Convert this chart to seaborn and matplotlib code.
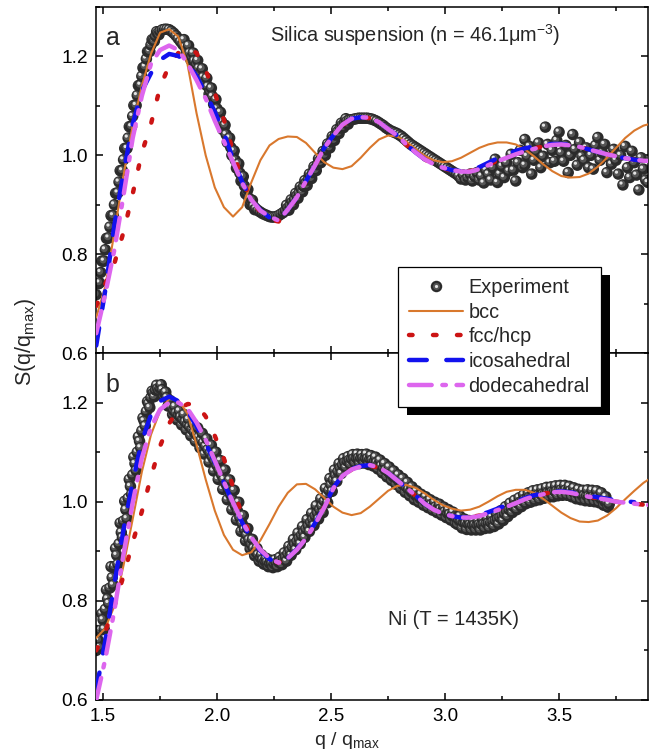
import numpy as np
import pandas as pd
import matplotlib
matplotlib.use("Agg")
import matplotlib.pyplot as plt
import seaborn as sns
from matplotlib.lines import Line2D
from matplotlib.patches import Rectangle
from matplotlib.legend_handler import HandlerTuple
from matplotlib.ticker import MultipleLocator

sns.set_theme(style="ticks")
plt.rcParams.update({
    "mathtext.fontset": "custom",
    "mathtext.rm": "Liberation Sans",
    "mathtext.it": "Liberation Sans:italic",
    "mathtext.bf": "Liberation Sans:bold",
    "mathtext.default": "regular",
    "axes.linewidth": 1.1,
    "axes.edgecolor": "black",
    "axes.facecolor": "white",
    "figure.facecolor": "white",
})
plt.rcParams["font.family"] = ["Liberation Sans", "DejaVu Sans"]

# ---------------- data ----------------
LABELS = ["Experiment", "bcc", "fcc/hcp", "icosahedral", "dodecahedral"]
X_TICKS = [1.5, 2.0, 2.5, 3.0, 3.5]
Y_TICKS = [0.6, 0.8, 1.0, 1.2]

# model curves are tabulated on q = 1.47, 1.51, ..., 3.91
Q_MODEL = np.round(np.arange(1.47, 3.9101, 0.04), 2)

A_BCC = [0.672, 0.735, 0.845, 0.960, 1.060, 1.140, 1.205, 1.248, 1.255, 1.240,
         1.185, 1.085, 1.000, 0.935, 0.895, 0.876, 0.895, 0.945, 0.990, 1.020,
         1.033, 1.038, 1.037, 1.025, 1.005, 0.986, 0.975, 0.972, 0.978, 0.995,
         1.015, 1.032, 1.040, 1.038, 1.028, 1.013, 0.999, 0.990, 0.986, 0.988,
         0.995, 1.005, 1.015, 1.022, 1.026, 1.026, 1.022, 1.012, 0.998, 0.982,
         0.968, 0.958, 0.955, 0.956, 0.963, 0.977, 0.995, 1.015, 1.035, 1.050,
         1.060, 1.065]
A_FCC = [0.695, 0.740, 0.782, 0.845, 0.922, 1.005, 1.063, 1.138, 1.182, 1.207,
         1.219, 1.207, 1.172, 1.126, 1.072, 1.008, 0.950, 0.910, 0.885, 0.870,
         0.866, 0.889, 0.914, 0.947, 0.980, 1.014, 1.040, 1.061, 1.074, 1.077,
         1.075, 1.066, 1.053, 1.039, 1.021, 1.005, 0.992, 0.981, 0.974, 0.969,
         0.967, 0.968, 0.973, 0.981, 0.989, 0.997, 1.004, 1.010, 1.014, 1.018,
         1.021, 1.022, 1.020, 1.017, 1.012, 1.007, 1.002, 0.998, 0.994, 0.991,
         0.989, 0.988]
A_ICO = [0.615, 0.728, 0.860, 0.965, 1.063, 1.130, 1.166, 1.193, 1.205, 1.201,
         1.186, 1.160, 1.125, 1.088, 1.045, 0.992, 0.946, 0.910, 0.889, 0.874,
         0.868, 0.890, 0.915, 0.948, 0.980, 1.015, 1.040, 1.062, 1.074, 1.077,
         1.076, 1.067, 1.053, 1.040, 1.022, 1.006, 0.992, 0.982, 0.975, 0.970,
         0.968, 0.970, 0.976, 0.985, 0.994, 1.002, 1.009, 1.014, 1.018, 1.021,
         1.023, 1.023, 1.021, 1.017, 1.012, 1.007, 1.002, 0.998, 0.994, 0.991,
         0.989, 0.988]
A_DOD = [0.640, 0.720, 0.810, 0.920, 1.035, 1.120, 1.185, 1.213, 1.222, 1.213,
         1.186, 1.152, 1.115, 1.070, 1.028, 0.986, 0.944, 0.910, 0.888, 0.876,
         0.868, 0.890, 0.915, 0.948, 0.980, 1.015, 1.040, 1.062, 1.074, 1.077,
         1.076, 1.067, 1.053, 1.040, 1.022, 1.006, 0.992, 0.982, 0.975, 0.970,
         0.967, 0.967, 0.972, 0.980, 0.988, 0.995, 1.002, 1.008, 1.013, 1.018,
         1.021, 1.022, 1.020, 1.017, 1.012, 1.007, 1.002, 0.998, 0.994, 0.991,
         0.989, 0.988]

B_BCC = [0.725, 0.745, 0.790, 0.872, 0.965, 1.060, 1.135, 1.183, 1.208, 1.205,
         1.178, 1.115, 1.045, 0.982, 0.933, 0.903, 0.892, 0.898, 0.922, 0.955,
         0.990, 1.018, 1.035, 1.036, 1.025, 1.008, 0.990, 0.978, 0.973, 0.977,
         0.990, 1.006, 1.022, 1.032, 1.034, 1.028, 1.017, 1.004, 0.993, 0.986,
         0.982, 0.984, 0.990, 1.000, 1.011, 1.020, 1.024, 1.024, 1.018, 1.006,
         0.992, 0.978, 0.967, 0.960, 0.959, 0.962, 0.972, 0.987, 1.005, 1.022,
         1.038, 1.050]
B_FCC = [0.700, 0.738, 0.790, 0.851, 0.918, 0.980, 1.050, 1.112, 1.158, 1.186,
         1.197, 1.197, 1.172, 1.133, 1.087, 1.030, 0.972, 0.928, 0.901, 0.884,
         0.877, 0.887, 0.904, 0.927, 0.956, 0.989, 1.027, 1.052, 1.065, 1.071,
         1.073, 1.068, 1.057, 1.043, 1.028, 1.012, 0.996, 0.984, 0.976, 0.971,
         0.968, 0.969, 0.972, 0.978, 0.985, 0.992, 0.999, 1.006, 1.012, 1.016,
         1.019, 1.020, 1.018, 1.014, 1.010, 1.007, 1.004, 1.000, 0.998, 0.996,
         0.994, 0.993]
B_ICO = [0.620, 0.720, 0.835, 0.944, 1.040, 1.122, 1.175, 1.203, 1.212, 1.203,
         1.183, 1.152, 1.118, 1.080, 1.038, 0.997, 0.958, 0.925, 0.901, 0.884,
         0.877, 0.886, 0.904, 0.928, 0.957, 0.990, 1.028, 1.053, 1.066, 1.072,
         1.074, 1.069, 1.058, 1.043, 1.028, 1.013, 0.996, 0.984, 0.976, 0.971,
         0.968, 0.969, 0.973, 0.979, 0.986, 0.993, 1.000, 1.007, 1.013, 1.017,
         1.020, 1.021, 1.019, 1.016, 1.012, 1.009, 1.006, 1.003, 1.001, 0.999,
         np.nan, np.nan]
B_DOD = [0.600, 0.683, 0.782, 0.895, 0.998, 1.088, 1.150, 1.186, 1.200, 1.200,
         1.188, 1.160, 1.125, 1.083, 1.040, 0.998, 0.960, 0.928, 0.903, 0.886,
         0.877, 0.886, 0.903, 0.926, 0.955, 0.988, 1.027, 1.052, 1.065, 1.071,
         1.074, 1.069, 1.058, 1.043, 1.028, 1.013, 0.996, 0.984, 0.976, 0.971,
         0.968, 0.968, 0.971, 0.977, 0.983, 0.990, 0.997, 1.005, 1.011, 1.015,
         1.019, 1.020, 1.018, 1.014, 1.010, 1.007, 1.004, 1.000, 0.998, 0.996,
         0.994, 0.993]

# experiment, silica: sampled from q = 1.47 in steps of 0.01
A_EXP_S = [0.718, 0.740, 0.763, 0.786, 0.809, 0.832, 0.855, 0.877, 0.900, 0.923,
           0.946, 0.968, 0.991, 1.013, 1.035, 1.057, 1.079, 1.100, 1.121, 1.141,
           1.160, 1.178, 1.195, 1.210, 1.223, 1.233, 1.241, 1.247, 1.251, 1.254,
           1.255, 1.255, 1.254,
           1.251, 1.247, 1.242, 1.236, 1.230, 1.224, 1.219, 1.214, 1.207, 1.199,
           1.191, 1.184, 1.176, 1.167, 1.158, 1.149, 1.139, 1.129, 1.119, 1.107,
           1.094, 1.081, 1.068, 1.055, 1.042, 1.029, 1.016, 1.003, 0.990, 0.977,
           0.964, 0.951, 0.938, 0.925, 0.913, 0.904, 0.897, 0.892, 0.888, 0.885,
           0.882, 0.880, 0.878, 0.876, 0.875, 0.875, 0.876, 0.878, 0.881, 0.884,
           0.888, 0.893, 0.899, 0.905, 0.911,
           0.918, 0.924, 0.931, 0.937, 0.944, 0.950, 0.957, 0.965, 0.973, 0.981,
           0.989, 0.996, 1.004, 1.011, 1.019, 1.027, 1.034, 1.041, 1.048, 1.055,
           1.061, 1.066, 1.069, 1.071, 1.072,
           1.073, 1.074, 1.075, 1.075, 1.075, 1.075, 1.075, 1.074, 1.073, 1.071,
           1.069, 1.066, 1.063, 1.060, 1.056, 1.053, 1.050, 1.048, 1.046, 1.044,
           1.041, 1.038, 1.034, 1.030, 1.026, 1.022, 1.019, 1.016, 1.013, 1.010,
           1.007, 1.004, 1.001, 0.998, 0.995, 0.992, 0.989, 0.986, 0.983, 0.980,
           0.977, 0.974, 0.971, 0.968, 0.965, 0.962]
# additional silica points on the steep flanks (q = start + 0.01 k)
A_FLANK1_S = [0.741, 0.742, 0.786, 0.786, 0.832, 0.833, 0.878, 0.878, 0.923, 0.924,
              0.969, 0.969, 1.014, 1.014, 1.058, 1.058, 1.101, 1.101, 1.141, 1.142,
              1.177, 1.179, 1.210, 1.210, 1.234, 1.231, 1.250, 1.244]          # from 1.475
A_FLANK2_S = [1.234, 1.207, 1.222, 1.193, 1.207, 1.178, 1.192, 1.162, 1.175, 1.144,
              1.156, 1.124, 1.136, 1.103, 1.113, 1.078, 1.087, 1.052, 1.061, 1.026,
              1.035, 1.000, 1.009, 0.974, 0.983, 0.948, 0.957, 0.922, 0.931, 0.900,
              0.909, 0.890]                                                      # from 1.855
A_FLANK3_S = [0.899, 0.889, 0.910, 0.900, 0.923, 0.913, 0.936, 0.926, 0.949, 0.939,
              0.962, 0.953, 0.977, 0.969, 0.993, 0.985, 1.008, 1.000, 1.023, 1.015,
              1.038, 1.030, 1.052, 1.044, 1.065, 1.056, 1.074, 1.063]          # from 2.305
# noisy tail of the silica data
A_TAIL_Q = [3.06, 3.07, 3.08, 3.09, 3.10, 3.11, 3.12, 3.13, 3.14, 3.15, 3.16, 3.17,
            3.18, 3.19, 3.20, 3.21, 3.22, 3.23, 3.24, 3.25, 3.26, 3.27, 3.28, 3.29,
            3.30, 3.31, 3.32, 3.33, 3.34, 3.35, 3.35, 3.36, 3.37, 3.38, 3.39, 3.40,
            3.41, 3.42, 3.43, 3.44, 3.45, 3.46, 3.47, 3.48, 3.49, 3.50, 3.51, 3.52,
            3.53, 3.54, 3.55, 3.56, 3.57, 3.58, 3.59, 3.60, 3.61, 3.62, 3.63, 3.64,
            3.65, 3.66, 3.67, 3.68, 3.69, 3.70, 3.71, 3.72, 3.73, 3.74, 3.75, 3.76,
            3.77, 3.78, 3.79, 3.80, 3.81, 3.82, 3.83, 3.84, 3.85, 3.86, 3.87, 3.88,
            3.89]
A_TAIL_S = [0.958, 0.952, 0.960, 0.950, 0.955, 0.962, 0.948, 0.957, 0.965, 0.950,
            0.958, 0.944, 0.970, 0.962, 0.950, 0.975, 0.992, 0.945, 0.962, 0.978,
            0.955, 0.985, 0.968, 1.002, 0.970, 0.948, 0.985, 1.010, 0.975, 1.032,
            0.980, 0.998, 1.018, 0.962, 0.990, 1.008, 1.025, 0.975, 0.998, 1.057,
            1.022, 0.985, 1.010, 0.988, 1.030, 1.047, 1.005, 0.988, 1.020, 0.965,
            1.000, 1.042, 1.012, 0.980, 1.026, 0.998, 0.990, 1.015, 0.975, 1.000,
            0.972, 1.020, 1.036, 0.990, 1.005, 1.022, 0.965, 0.995, 0.982, 1.012,
            0.990, 0.962, 1.000, 0.940, 1.018, 0.975, 0.955, 1.008, 0.985, 0.960,
            0.930, 0.995, 0.972, 0.950, 0.945]

# experiment, Ni: sampled from q = 1.47 in steps of 0.01
B_EXP_S = [0.700, 0.720, 0.741, 0.762, 0.783, 0.804, 0.826, 0.847, 0.869, 0.892,
           0.915, 0.938, 0.961, 0.984, 1.007, 1.031, 1.054, 1.077, 1.100, 1.122,
           1.143, 1.163, 1.182, 1.198, 1.210, 1.219, 1.225, 1.228, 1.229, 1.226,
           1.219, 1.210, 1.200,
           1.191, 1.184, 1.179, 1.175, 1.171, 1.166, 1.161, 1.156, 1.151, 1.146,
           1.140, 1.135, 1.130, 1.124, 1.119, 1.112, 1.105, 1.098, 1.090, 1.082,
           1.073, 1.064, 1.054, 1.045, 1.035, 1.025, 1.014, 1.003, 0.992, 0.981,
           0.968, 0.956, 0.944, 0.933, 0.923, 0.914, 0.906, 0.899, 0.893, 0.887,
           0.883, 0.880, 0.878, 0.876, 0.875, 0.875, 0.876, 0.878, 0.881, 0.885,
           0.889, 0.895, 0.901, 0.908, 0.914,
           0.920, 0.926, 0.932, 0.938, 0.945, 0.951, 0.958, 0.964, 0.971, 0.977,
           0.984, 0.991, 1.001, 1.012, 1.023, 1.034, 1.044, 1.053, 1.061, 1.068,
           1.074, 1.079, 1.082, 1.084, 1.086,
           1.087, 1.088, 1.088, 1.088, 1.088, 1.088, 1.087, 1.086, 1.084, 1.082,
           1.079, 1.076, 1.072, 1.068, 1.064, 1.060, 1.056, 1.052, 1.048, 1.045,
           1.041, 1.037, 1.033, 1.029, 1.025, 1.021, 1.017, 1.013, 1.010, 1.007,
           1.004, 1.002, 0.999, 0.997, 0.994, 0.992, 0.990, 0.988, 0.985, 0.982,
           0.980, 0.977, 0.975, 0.972, 0.969, 0.966,
           0.963, 0.960, 0.958, 0.956, 0.955, 0.954, 0.953, 0.953, 0.953, 0.954,
           0.954, 0.955, 0.956, 0.957, 0.958, 0.960, 0.962, 0.965, 0.968, 0.972,
           0.976, 0.980, 0.984, 0.987, 0.990, 0.993, 0.996, 0.999, 1.002, 1.005,
           1.007, 1.009, 1.011, 1.012, 1.013, 1.014, 1.015, 1.016, 1.017, 1.018,
           1.019, 1.020, 1.021, 1.022, 1.023, 1.024, 1.024, 1.024, 1.023, 1.022,
           1.020, 1.018, 1.016, 1.014, 1.013, 1.012, 1.012, 1.011, 1.011, 1.010,
           1.010, 1.009, 1.007, 1.004, 1.001, 0.998, 0.995]
# second, interleaved set of Ni points (q = 1.475 + 0.01 k), scattered about the band
B_EXP2_S = [0.740, 0.706, 0.774, 0.743, 0.822, 0.795, 0.869, 0.832, 0.906, 0.874,
            0.957, 0.928, 1.001, 0.966, 1.045, 1.015, 1.090, 1.063, 1.131, 1.109,
            1.169, 1.153, 1.202, 1.190, 1.223, 1.212, 1.235, 1.223, 1.236, 1.213,
            1.221, 1.193, 1.204, 1.176, 1.192, 1.165, 1.183, 1.155, 1.176, 1.145,
            1.166, 1.133, 1.157, 1.122, 1.149, 1.109, 1.138, 1.096, 1.127, 1.080,
            1.114, 1.062, 1.100, 1.045, 1.083, 1.025, 1.064, 1.004, 1.044, 0.984,
            1.023, 0.963, 0.999, 0.940, 0.972, 0.921, 0.946, 0.905, 0.924, 0.891,
            0.906, 0.880, 0.893, 0.874, 0.886, 0.869, 0.882, 0.867, 0.883, 0.869,
            0.888, 0.873, 0.897, 0.880, 0.910, 0.892, 0.924, 0.903,
            0.937, 0.915, 0.950, 0.928, 0.964, 0.940, 0.977, 0.952, 0.992, 0.965,
            1.006, 0.978, 1.027, 0.998, 1.047, 1.021, 1.064, 1.041, 1.077, 1.057,
            1.087, 1.069, 1.091, 1.075, 1.095,
            1.078, 1.096, 1.077, 1.095, 1.078, 1.096, 1.075, 1.093, 1.072, 1.090,
            1.066, 1.084, 1.058, 1.077, 1.050, 1.070, 1.043, 1.062, 1.035, 1.054,
            1.027, 1.047, 1.019, 1.039, 1.012, 1.030, 1.004, 1.022, 0.999, 1.015,
            0.993, 1.010, 0.988, 1.004, 0.983, 0.999, 0.978, 0.995, 0.973, 0.989,
            0.968, 0.984, 0.963, 0.979, 0.957,
            0.954, 0.971, 0.947, 0.965, 0.944, 0.962, 0.943, 0.962, 0.943, 0.962,
            0.943, 0.965, 0.946, 0.967, 0.947, 0.970, 0.950, 0.976, 0.955, 0.982,
            0.962, 0.990, 0.970, 0.997, 0.978, 1.003, 0.984, 1.008, 0.990, 1.014,
            0.996, 1.018, 0.999, 1.022, 1.002, 1.024, 1.004, 1.026, 1.007, 1.029,
            1.009, 1.030, 1.010, 1.032, 1.012, 1.033, 1.013, 1.033, 1.013, 1.031,
            1.010, 1.028, 1.006, 1.025, 1.004, 1.023, 1.002, 1.024, 1.001, 1.023,
            1.000, 1.022, 0.998, 1.018, 0.993, 1.010, 0.989]

assert len(A_EXP_S) == 159 and len(B_EXP_S) == 226 and len(B_EXP2_S) == 225


def grid(start, vals):
    return list(np.round(start + 0.01 * np.arange(len(vals)), 3))


A_EXP_Q = (grid(1.47, A_EXP_S) + grid(1.475, A_FLANK1_S) + grid(1.855, A_FLANK2_S)
           + grid(2.305, A_FLANK3_S) + A_TAIL_Q)
A_EXP_ALL = A_EXP_S + A_FLANK1_S + A_FLANK2_S + A_FLANK3_S + A_TAIL_S
B_EXP_Q = grid(1.47, B_EXP_S) + grid(1.475, B_EXP2_S)
B_EXP_ALL = B_EXP_S + B_EXP2_S

# ---------------- styles ----------------
W, H = 656, 756
XLIM = (1.469, 3.890)
YLIM = (0.6, 1.3)
AX_L, AX_W = 96, 552
A_TOP, A_H = 7, 346
B_TOP, B_H = 353, 347

C_BCC = "#d9782d"
C_FCC = "#cc1414"
C_ICO = "#1212ee"
C_DOD = "#dd66ee"
LW = 3.2
STYLES = [
    dict(color=C_BCC, linewidth=1.5, linestyle="-"),
    dict(color=C_FCC, linewidth=LW, linestyle=(0, (0.8, 4.6)), dash_capstyle="round"),
    dict(color=C_ICO, linewidth=LW, linestyle=(0, (4.0, 4.4)), dash_capstyle="round"),
    dict(color=C_DOD, linewidth=LW, linestyle=(0, (5.1, 2.4, 0.8, 2.4)), dash_capstyle="round"),
]
SPH_D = 11.5  # px
SPH_LAYERS = [("base", 0.0, 0.0, SPH_D, "#2b2b2b"),
              ("mid", -1.1, 1.1, 7.0, "#555555"),
              ("hi", -1.9, 1.9, 3.2, "#e4e4e4")]

fig = plt.figure(figsize=(W / 100, H / 100), dpi=100)
ax_a = fig.add_axes([AX_L / W, 1 - (A_TOP + A_H) / H, AX_W / W, A_H / H])
ax_b = fig.add_axes([AX_L / W, 1 - (B_TOP + B_H) / H, AX_W / W, B_H / H])


def spheres(ax, q, s, h_px):
    dq = (XLIM[1] - XLIM[0]) / AX_W
    ds = (YLIM[1] - YLIM[0]) / h_px
    order = np.argsort(np.asarray(q), kind="stable")
    rows = []
    for i in order:
        for name, ox, oy, d, c in SPH_LAYERS:
            rows.append((q[i] + ox * dq, s[i] + oy * ds, name))
    df = pd.DataFrame(rows, columns=["q", "S", "layer"])
    sns.scatterplot(data=df, x="q", y="S", hue="layer", size="layer",
                    palette={n: c for n, _, _, _, c in SPH_LAYERS},
                    sizes={n: (d * 0.72) ** 2 for n, _, _, d, _ in SPH_LAYERS},
                    linewidth=0, legend=False, ax=ax, zorder=2)


def panel(ax, eq, es, curves, h_px):
    spheres(ax, eq, es, h_px)
    for ys, st in zip(curves, STYLES):
        sns.lineplot(x=Q_MODEL, y=np.array(ys, dtype=float), ax=ax,
                     estimator=None, sort=False, zorder=3, **st)
    ax.set_xlim(*XLIM)
    ax.set_ylim(*YLIM)
    ax.set_xticks(X_TICKS)
    ax.set_yticks(Y_TICKS)
    ax.xaxis.set_minor_locator(MultipleLocator(0.25))
    ax.yaxis.set_minor_locator(MultipleLocator(0.1))
    ax.tick_params(which="both", direction="in", top=True, right=True,
                   width=1.1, colors="black")
    ax.tick_params(which="major", length=5)
    ax.tick_params(which="minor", length=3)
    ax.tick_params(axis="y", labelsize=13.8, pad=6)
    ax.tick_params(axis="x", labelsize=13.5, pad=5.5)
    ax.set_xlabel("")
    ax.set_ylabel("")
    for sp in ax.spines.values():
        sp.set_linewidth(1.1)
        sp.set_color("black")


panel(ax_a, A_EXP_Q, A_EXP_ALL, [A_BCC, A_FCC, A_ICO, A_DOD], A_H)
panel(ax_b, B_EXP_Q, B_EXP_ALL, [B_BCC, B_FCC, B_ICO, B_DOD], B_H)
ax_a.tick_params(axis="x", labelbottom=False)

ax_a.text(0.018, 0.89, "a", transform=ax_a.transAxes, fontsize=18, va="baseline")
ax_b.text(0.018, 0.888, "b", transform=ax_b.transAxes, fontsize=18, va="baseline")
ax_a.text(0.315, 0.899, "Silica suspension (n = 46.1μm$^{-3}$)",
          transform=ax_a.transAxes, fontsize=14.3, va="baseline")
ax_b.text(0.529, 0.216, "Ni (T = 1435K)", transform=ax_b.transAxes,
          fontsize=14.5, va="baseline")
fig.text(26 / W, 1 - 342 / H, "S(q/q$_{max}$)", rotation=90, ha="center",
         va="center", fontsize=15.5)
fig.text(347 / W, 1 - 745 / H, "q / q$_{max}$", ha="center", va="baseline",
         fontsize=14)

# legend
h_exp = tuple(Line2D([], [], ls="none", marker="o", ms=d * 0.72, mfc=c, mec=c, mew=0)
              for _, _, _, d, c in SPH_LAYERS)
handles = [h_exp] + [Line2D([], [], **st) for st in STYLES]
leg = fig.legend(handles, LABELS, loc="upper left",
                 bbox_to_anchor=(398 / W, 1 - 267 / H), bbox_transform=fig.transFigure,
                 frameon=True, fancybox=False, edgecolor="black", framealpha=1,
                 fontsize=14.3, handlelength=2.7, handletextpad=0.3, borderpad=0.55,
                 labelspacing=0.29, borderaxespad=0,
                 handler_map={tuple: HandlerTuple(ndivide=1, pad=0)})
leg.get_frame().set_linewidth(0.9)
leg.set_zorder(6)

fig.canvas.draw()
bb = leg.get_window_extent()
x0, y0 = fig.transFigure.inverted().transform((bb.x0 + 9, bb.y0 - 8))
x1, y1 = fig.transFigure.inverted().transform((bb.x1 + 9, bb.y1 - 8))
fig.add_artist(Rectangle((x0, y0), x1 - x0, y1 - y0, transform=fig.transFigure,
                         facecolor="black", edgecolor="none", zorder=5))

fig.savefig("out.png", dpi=100)
